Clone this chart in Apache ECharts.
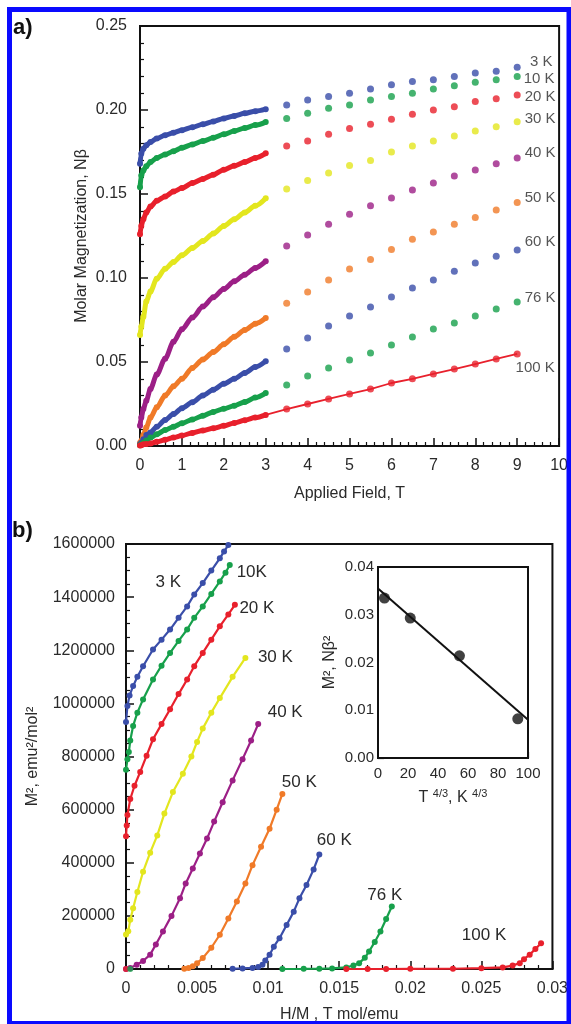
<!DOCTYPE html>
<html><head><meta charset="utf-8">
<script src="https://cdn.jsdelivr.net/npm/echarts@6/dist/echarts.min.js"></script>
<style>html,body{margin:0;padding:0;background:#fff}#c{width:571px;height:1024px}</style>
</head><body><div id="c"></div><script>
// ---------- Panel a) Molar magnetization vs applied field ----------
const tempsA = ['3 K','10 K','20 K','30 K','40 K','50 K','60 K','76 K','100 K'];
const fieldDense = [0,0.03,0.08,0.15,0.25,0.4,0.6,0.8,1.0,1.25,1.5,1.75,2.0,2.25,2.5,2.75,3.0];
const fieldSparse = [3.5,4,4.5,5,5.5,6,6.5,7,7.5,8,8.5,9];
const dense3K  = [0.168,0.174,0.177,0.179,0.181,0.183,0.185,0.1865,0.188,0.1898,0.1915,0.1932,0.195,0.1965,0.198,0.1993,0.2005];
const dense10K = [0.154,0.161,0.164,0.1665,0.169,0.1715,0.1735,0.1755,0.1775,0.1795,0.1815,0.1835,0.1855,0.1875,0.1893,0.191,0.1928];
const dense20K = [0.126,0.131,0.135,0.139,0.1425,0.146,0.1485,0.1515,0.1535,0.1565,0.159,0.1615,0.1645,0.1668,0.169,0.1715,0.1742];
const dense30K = [0.066,0.071,0.077,0.086,0.092,0.0995,0.1055,0.1095,0.1135,0.1178,0.122,0.1265,0.131,0.135,0.139,0.143,0.1475];
const dense40K = [0.012,0.017,0.022,0.027,0.034,0.0425,0.052,0.062,0.0695,0.0765,0.083,0.0885,0.0935,0.098,0.102,0.106,0.110];
const dense50K = [0.002,0.003,0.0065,0.011,0.017,0.023,0.030,0.0355,0.040,0.0465,0.0515,0.056,0.0605,0.065,0.069,0.0728,0.0762];
const dense60K = [0.001,0.002,0.004,0.0065,0.008,0.0115,0.0155,0.019,0.0225,0.026,0.030,0.0335,0.037,0.040,0.0435,0.047,0.0505];
const dense76K = [0.0005,0.001,0.002,0.0032,0.005,0.007,0.0095,0.0115,0.0135,0.0158,0.018,0.0203,0.0222,0.024,0.0262,0.0288,0.0315];
const dense100K= [0.0003,0.0005,0.001,0.0012,0.0015,0.0025,0.0037,0.005,0.0062,0.0078,0.0092,0.0106,0.012,0.0137,0.0153,0.0169,0.0185];
const sparse3K  = [0.203,0.206,0.208,0.210,0.2125,0.215,0.217,0.218,0.220,0.222,0.223,0.2255];
const sparse10K = [0.195,0.198,0.201,0.203,0.206,0.208,0.210,0.2125,0.2145,0.2165,0.218,0.220];
const sparse20K = [0.1786,0.1815,0.1855,0.189,0.1915,0.1945,0.1975,0.200,0.202,0.205,0.2067,0.209];
const sparse30K = [0.153,0.158,0.1625,0.167,0.170,0.175,0.1786,0.1815,0.1845,0.1875,0.190,0.193];
const sparse40K = [0.119,0.1256,0.132,0.138,0.143,0.1476,0.1524,0.1565,0.1607,0.1643,0.168,0.1714];
const sparse50K = [0.085,0.0917,0.0988,0.1054,0.111,0.117,0.123,0.1274,0.132,0.136,0.1405,0.145];
const sparse60K = [0.0577,0.0643,0.0714,0.0774,0.0827,0.0887,0.094,0.0988,0.104,0.109,0.113,0.1167];
const sparse76K = [0.0363,0.0417,0.0464,0.0512,0.0554,0.0601,0.0649,0.0696,0.0732,0.0774,0.0815,0.0857];
const sparse100K= [0.022,0.025,0.028,0.031,0.0339,0.0375,0.040,0.0429,0.0458,0.0488,0.0518,0.0548];

// ---------- Panel b) Arrott plot M^2 vs H/M ----------
const tempsB = ['3 K','10K','20 K','30 K','40 K','50 K','60 K','76 K','100 K'];
const hm3K  = [0,0.0001,0.00025,0.0005,0.0008,0.0012,0.0019,0.0025,0.0031,0.0037,0.0043,0.0048,0.0054,0.006,0.0066,0.0069,0.0072];
const m2_3K = [930000,990000,1030000,1065000,1100000,1140000,1203000,1240000,1278000,1322000,1365000,1410000,1453000,1500000,1546000,1572000,1596000];
const hm10K  = [0,0.0001,0.0002,0.0003,0.0005,0.0008,0.0012,0.0019,0.0025,0.0031,0.0037,0.0043,0.0048,0.0054,0.006,0.0066,0.007,0.0073];
const m2_10K = [750000,790000,817000,860000,915000,965000,1015000,1090000,1142000,1190000,1235000,1278000,1322000,1365000,1412000,1459000,1492000,1521000];
const hm20K  = [0,0.00005,0.0001,0.0003,0.0006,0.001,0.00145,0.0019,0.0025,0.0031,0.0037,0.0043,0.0048,0.0054,0.006,0.0066,0.0072,0.00766];
const m2_20K = [500000,540000,580000,640000,690000,742000,803000,865000,922000,978000,1035000,1090000,1140000,1190000,1240000,1290000,1335000,1371000];
const hm30K  = [0,0.00016,0.0003,0.0005,0.0008,0.0012,0.0017,0.0022,0.0027,0.0033,0.004,0.0046,0.005,0.0054,0.006,0.0066,0.0075,0.0084];
const m2_30K = [130000,142000,185000,229000,290000,366000,438000,503000,585000,666000,735000,800000,855000,905000,965000,1020000,1100000,1171000];
const hm40K  = [0,0.0003,0.00075,0.0012,0.0017,0.0021,0.0026,0.0032,0.0038,0.0042,0.0047,0.0052,0.0057,0.0062,0.0068,0.0075,0.0082,0.0088,0.0093];
const m2_40K = [0,4000,16000,30000,54000,92000,141000,200000,266000,322000,378000,435000,491000,555000,628000,710000,790000,860000,922000];
const hm50K  = [0.0041,0.0044,0.0047,0.005,0.0054,0.006,0.0066,0.0072,0.0078,0.0084,0.0089,0.0095,0.0101,0.0106,0.0110];
const m2_50K = [1000,4000,10000,22000,41000,80000,129000,190000,254000,322000,391000,460000,528000,600000,659000];
const hm60K  = [0.0075,0.0082,0.0089,0.0093,0.0096,0.0098,0.0101,0.0104,0.0108,0.0113,0.0118,0.0122,0.0127,0.0132,0.0136];
const m2_60K = [1000,2000,4000,8000,16000,32000,54000,84000,116000,166000,216000,266000,316000,375000,431000];
const hm76K  = [0.011,0.0125,0.0136,0.0145,0.0155,0.016,0.0164,0.0168,0.0171,0.0175,0.0179,0.0183,0.0187];
const m2_76K = [0,500,1000,2000,6000,13000,22000,42000,66000,102000,141000,188000,235000];
const hm100K  = [0.0155,0.017,0.0183,0.02,0.023,0.025,0.0265,0.0272,0.0277,0.028,0.0284,0.0288,0.0292];
const m2_100K = [0,0,0,500,1000,3000,6000,13000,22000,37000,54000,75000,97000];
const strayHM = [0,0.0003];      // isolated points at origin (100 K red, 76 K green)
const strayM2 = [0,0];

// ---------- Inset: M^2 (extrapolated) vs T^(4/3) ----------
const insetT43 = [4.3,21.5,54.3,93.2];
const insetM2  = [0.0335,0.0293,0.0214,0.0082];
const fitT43 = [0,100];
const fitM2  = [0.0355,0.0080];

// ---------- styling ----------
const C = {blue:'#3a4ea9', green:'#17a04b', red:'#e8202c', yellow:'#e3e61e', purple:'#9c1f86', orange:'#f07a28'};
const colA = [C.blue,C.green,C.red,C.yellow,C.purple,C.orange,C.blue,C.green,C.red];
const denseA = [dense3K,dense10K,dense20K,dense30K,dense40K,dense50K,dense60K,dense76K,dense100K];
const sparseA = [sparse3K,sparse10K,sparse20K,sparse30K,sparse40K,sparse50K,sparse60K,sparse76K,sparse100K];
const labOffA = [[24,-5],[22,2],[23,2],[23,-3],[23,-5],[23,-5],[23,-8],[23,-4],[18,14]];
const hmB = [hm3K,hm10K,hm20K,hm30K,hm40K,hm50K,hm60K,hm76K,hm100K];
const m2B = [m2_3K,m2_10K,m2_20K,m2_30K,m2_40K,m2_50K,m2_60K,m2_76K,m2_100K];
const labOffB = [[-60,37],[22,7],[22,3],[30,-1],[27,-12],[17,-12],[15,-14],[-7,-11],[-57,-8]];
const zip = (a,b) => a.map((v,i)=>[v,b[i]]);
const TXT = '#2a2a2a';
const FONT = 'Liberation Sans, Arial, sans-serif';

function axisCommon(extra){
  return Object.assign({
    type:'value',
    axisLine:{show:true,onZero:false,lineStyle:{color:'#111',width:2}},
    axisTick:{show:true,inside:true,length:8,lineStyle:{color:'#111',width:1.5}},
    minorTick:{show:true,splitNumber:5,length:4,lineStyle:{color:'#111',width:1.2}},
    splitLine:{show:false},
    axisLabel:{color:TXT,fontSize:16,fontFamily:FONT},
    nameLocation:'middle',
    nameMoveOverlap:false,
    nameTextStyle:{color:TXT,fontSize:16,fontFamily:FONT}
  }, extra);
}

const series = [];
// panel a
for (let i=0;i<9;i++){
  series.push({type:'line',xAxisIndex:0,yAxisIndex:0,data:zip(fieldDense,denseA[i]),
    smooth:0.3,smoothMonotone:'x',symbol:'circle',symbolSize:6,showSymbol:true,
    itemStyle:{color:colA[i]},lineStyle:{color:colA[i],width:5},z:3,silent:true});
  const d = zip(fieldSparse,sparseA[i]);
  d[d.length-1] = {value:d[d.length-1], label:{show:true,formatter:tempsA[i],position:'inside',
    offset:labOffA[i],color:TXT,fontSize:15,fontFamily:FONT}};
  series.push({type:'scatter',xAxisIndex:0,yAxisIndex:0,data:d,symbolSize:7,
    itemStyle:{color:colA[i]},z:4,silent:true});
}
series.push({type:'line',xAxisIndex:0,yAxisIndex:0,
  data:zip(fieldDense.concat(fieldSparse),dense100K.concat(sparse100K)),
  showSymbol:false,lineStyle:{color:C.red,width:1.8},z:5,silent:true});
// panel b
for (let i=0;i<9;i++){
  const d = zip(hmB[i],m2B[i]);
  d[d.length-1] = {value:d[d.length-1], label:{show:true,formatter:tempsB[i],position:'inside',
    offset:labOffB[i],color:TXT,fontSize:17,fontFamily:FONT}};
  series.push({type:'line',xAxisIndex:1,yAxisIndex:1,data:d,symbol:'circle',symbolSize:6,showSymbol:true,
    itemStyle:{color:colA[i]},lineStyle:{color:colA[i],width:2.2},z:3,silent:true});
}
series.push({type:'scatter',xAxisIndex:1,yAxisIndex:1,data:zip(strayHM,strayM2),symbolSize:6,
  itemStyle:{color:(p)=>p.dataIndex===0?C.red:C.green},z:4,silent:true});
// inset
series.push({type:'line',xAxisIndex:2,yAxisIndex:2,data:zip(fitT43,fitM2),showSymbol:false,
  lineStyle:{color:'#111',width:2},z:3,silent:true});
series.push({type:'scatter',xAxisIndex:2,yAxisIndex:2,data:zip(insetT43,insetM2),symbolSize:11,
  itemStyle:{color:'#111'},z:4,silent:true});

const option = {
  animation:false,
  backgroundColor:'#fff',
  grid:[
    {left:140,top:26,width:421,height:420,show:true,borderColor:'#111',borderWidth:2,backgroundColor:'transparent'},
    {left:126,top:544,width:427,height:427,show:true,borderColor:'#111',borderWidth:2,backgroundColor:'transparent'},
    {left:378,top:567,width:150,height:191,show:true,borderColor:'#111',borderWidth:2,backgroundColor:'#fff',z:1}
  ],
  xAxis:[
    axisCommon({gridIndex:0,min:0,max:10,interval:1,name:'Applied Field, T',nameGap:40,
      axisLabel:{color:TXT,fontSize:16,fontFamily:FONT,margin:12}}),
    axisCommon({gridIndex:1,min:0,max:0.03,interval:0.005,name:'H/M , T mol/emu',nameGap:38,
      axisLabel:{color:TXT,fontSize:16,fontFamily:FONT,margin:12}}),
    axisCommon({gridIndex:2,min:0,max:100,interval:20,nameGap:30,
      name:'{m|T }{s|4/3}{m|, K }{s|4/3}',
      nameTextStyle:{rich:{m:{color:TXT,fontSize:16,fontFamily:FONT},s:{color:TXT,fontSize:11,fontFamily:FONT,padding:[0,0,9,0]}}},
      axisTick:{show:true,inside:true,length:6,lineStyle:{color:'#111',width:1.2}},
      minorTick:{show:true,splitNumber:4,length:3,lineStyle:{color:'#111',width:1}},
      axisLabel:{color:TXT,fontSize:15,fontFamily:FONT,margin:8}})
  ],
  yAxis:[
    axisCommon({gridIndex:0,min:0,max:0.25,interval:0.05,name:'Molar Magnetization, Nβ',nameGap:50,
      axisLabel:{color:TXT,fontSize:16,fontFamily:FONT,margin:13,formatter:v=>v.toFixed(2)}}),
    axisCommon({gridIndex:1,min:0,max:1600000,interval:200000,name:'M², emu²/mol²',nameGap:85,
      minorTick:{show:true,splitNumber:4,length:4,lineStyle:{color:'#111',width:1.2}},
      axisLabel:{color:TXT,fontSize:16,fontFamily:FONT,margin:11,formatter:v=>String(v)}}),
    axisCommon({gridIndex:2,min:0,max:0.04,interval:0.01,name:'M², Nβ²',nameGap:40,
      axisTick:{show:true,inside:true,length:6,lineStyle:{color:'#111',width:1.2}},
      minorTick:{show:true,splitNumber:5,length:3,lineStyle:{color:'#111',width:1}},
      axisLabel:{color:TXT,fontSize:15,fontFamily:FONT,margin:4,formatter:v=>v.toFixed(2)}})
  ],
  graphic:[
    {type:'rect',shape:{x:9.5,y:9.5,width:559.5,height:1014},style:{fill:null,stroke:'#0a0aff',lineWidth:5},z:100},
    {type:'text',left:13,top:17,style:{text:'a)',font:'bold 22px '+FONT,fill:'#111'}},
    {type:'text',left:12,top:520,style:{text:'b)',font:'bold 22px '+FONT,fill:'#111'}}
  ],
  series
};
echarts.init(document.getElementById('c')).setOption(option);
</script></body></html>
